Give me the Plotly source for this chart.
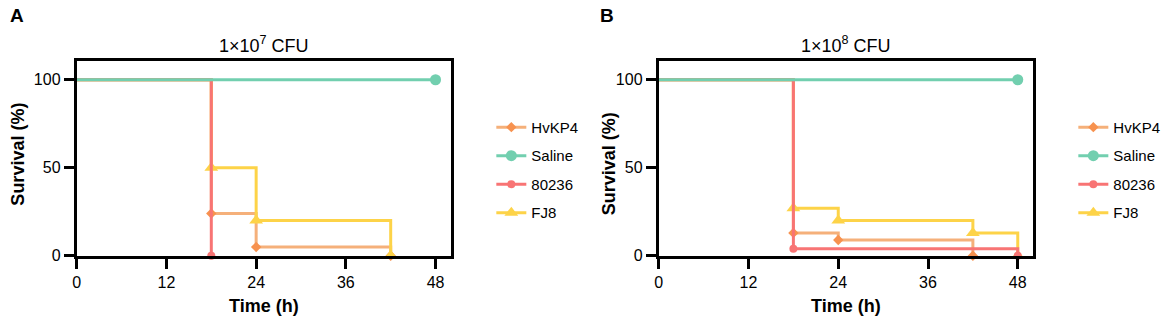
import plotly.graph_objects as go

W, H = 1169, 329

names = ["HvKP4", "Saline", "80236", "FJ8"]
line_colors = {"HvKP4": "#F5B07A", "Saline": "#72CFAF", "80236": "#F87474", "FJ8": "#FDD348"}
marker_colors = {"HvKP4": "#F7924F", "Saline": "#72CFAF", "80236": "#F87474", "FJ8": "#FDD348"}
symbols = {"HvKP4": "diamond", "Saline": "circle", "80236": "circle", "FJ8": "triangle-up"}
msizes = {"HvKP4": 8, "Saline": 11, "80236": 8, "FJ8": 12}

# Panel A (1x10^7 CFU): event times (h) and survival (%)
a_HvKP4_t = [0, 18, 24, 42]
a_HvKP4_s = [100, 24, 5, 0]
a_Saline_t = [0, 48]
a_Saline_s = [100, 100]
a_80236_t = [0, 18]
a_80236_s = [100, 0]
a_FJ8_t = [0, 18, 24, 42]
a_FJ8_s = [100, 50, 20, 0]

# Panel B (1x10^8 CFU)
b_HvKP4_t = [0, 18, 24, 42]
b_HvKP4_s = [100, 13, 9, 0]
b_Saline_t = [0, 48]
b_Saline_s = [100, 100]
b_80236_t = [0, 18, 48]
b_80236_s = [100, 4, 0]
b_FJ8_t = [0, 18, 24, 42, 48]
b_FJ8_s = [100, 27, 20, 13, 0]

x_ticks = [0, 12, 24, 36, 48]
y_ticks = [0, 50, 100]

panelA = {"HvKP4": (a_HvKP4_t, a_HvKP4_s), "Saline": (a_Saline_t, a_Saline_s),
          "80236": (a_80236_t, a_80236_s), "FJ8": (a_FJ8_t, a_FJ8_s)}
panelB = {"HvKP4": (b_HvKP4_t, b_HvKP4_s), "Saline": (b_Saline_t, b_Saline_s),
          "80236": (b_80236_t, b_80236_s), "FJ8": (b_FJ8_t, b_FJ8_s)}

FONT = "Arial, Liberation Sans, sans-serif"
fig = go.Figure()

draw_order = ["HvKP4", "FJ8", "80236", "Saline"]

def add_panel(panel, xa, ya, legend):
    for n in draw_order:
        t, s = panel[n]
        fig.add_trace(go.Scatter(x=t, y=s, mode="lines", line=dict(shape="hv", color=line_colors[n], width=3),
                                 xaxis=xa, yaxis=ya, showlegend=False, cliponaxis=False, hoverinfo="skip"))
        fig.add_trace(go.Scatter(x=t[1:], y=s[1:], mode="markers",
                                 marker=dict(symbol=symbols[n], color=marker_colors[n], size=msizes[n]),
                                 xaxis=xa, yaxis=ya, showlegend=False, cliponaxis=False))
    for n in names:
        fig.add_trace(go.Scatter(x=[None], y=[None], mode="lines+markers", name=n,
                                 line=dict(color=line_colors[n], width=3),
                                 marker=dict(symbol=symbols[n], color=marker_colors[n], size=msizes[n]),
                                 xaxis=xa, yaxis=ya, legend=legend, legendgroup=legend + n))

add_panel(panelA, "x", "y", "legend")
add_panel(panelB, "x2", "y2", "legend2")

def px(x):
    return x / W

def py(y):
    return 1 - y / H

ax_common = dict(showline=True, mirror=True, linewidth=3, linecolor="black", ticks="outside",
                 ticklen=10, tickwidth=2.5, tickcolor="black", showgrid=False, zeroline=False,
                 tickfont=dict(family=FONT, size=16, color="black"))

fig.update_layout(
    width=W, height=H, margin=dict(l=0, r=0, t=0, b=0),
    plot_bgcolor="white", paper_bgcolor="white",
    xaxis=dict(domain=[px(73), px(449)], range=[0, 50.13], tickvals=x_ticks, anchor="y", **ax_common),
    yaxis=dict(domain=[py(263), py(63)], range=[0, 110.5], tickvals=y_ticks, anchor="x", **ax_common),
    xaxis2=dict(domain=[px(657), px(1033)], range=[0, 50.1], tickvals=x_ticks, anchor="y2", **ax_common),
    yaxis2=dict(domain=[py(263), py(63)], range=[0, 110.5], tickvals=y_ticks, anchor="x2", **ax_common),
    legend=dict(x=px(489), y=py(114), xanchor="left", yanchor="top", traceorder="grouped",
                tracegroupgap=6, font=dict(family=FONT, size=15, color="black"), bgcolor="rgba(0,0,0,0)"),
    legend2=dict(x=px(1073), y=py(114), xanchor="left", yanchor="top", traceorder="grouped",
                 tracegroupgap=6, font=dict(family=FONT, size=15, color="black"), bgcolor="rgba(0,0,0,0)"),
    showlegend=True,
)

ann = [
    dict(text="<b>A</b>", x=px(4), y=py(3), xanchor="left", yanchor="top", size=19),
    dict(text="<b>B</b>", x=px(596), y=py(3), xanchor="left", yanchor="top", size=19),
    dict(text="1×10<sup>7</sup> CFU", x=px(261), y=py(46), xanchor="center", yanchor="middle", size=18),
    dict(text="1×10<sup>8</sup> CFU", x=px(845), y=py(46), xanchor="center", yanchor="middle", size=18),
    dict(text="<b>Time (h)</b>", x=px(261), y=py(315), xanchor="center", yanchor="middle", size=18),
    dict(text="<b>Time (h)</b>", x=px(845), y=py(315), xanchor="center", yanchor="middle", size=18),
]
for a in ann:
    fig.add_annotation(text=a["text"], x=a["x"], y=a["y"], xref="paper", yref="paper",
                       xanchor=a["xanchor"], yanchor=a["yanchor"], showarrow=False,
                       font=dict(family=FONT, size=a["size"], color="black"))
for xc, yc in [(14, 158), (607, 168)]:
    fig.add_annotation(text="<b>Survival (%)</b>", x=px(xc), y=py(yc), xref="paper", yref="paper",
                       xanchor="center", yanchor="middle", textangle=-90, showarrow=False,
                       font=dict(family=FONT, size=18, color="black"))

fig.write_html("out.html", config={"displayModeBar": False},
               post_script="document.body.style.margin='0';document.body.style.overflow='hidden';")
